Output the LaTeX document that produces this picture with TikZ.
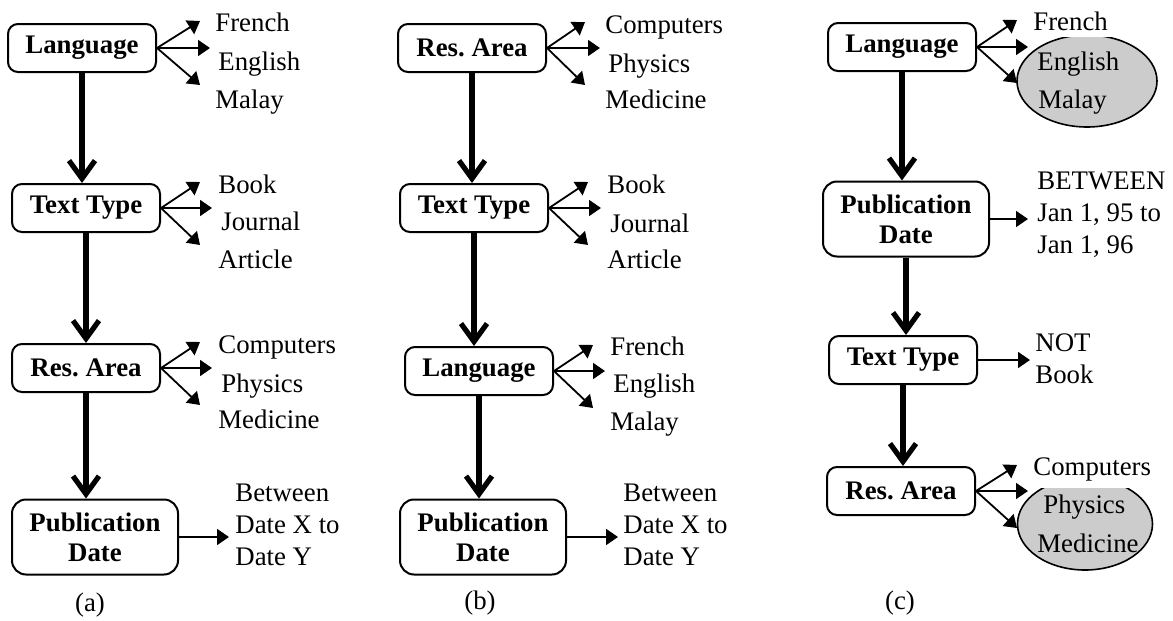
\documentclass[tikz,border=0pt]{standalone}
\usepackage{fontspec}
\setmainfont{Liberation Serif}
\usetikzlibrary{arrows.meta,shapes.geometric}

\begin{document}
\begin{tikzpicture}[
		x=0.5pt, y=-0.5pt,
		every node/.style={font=\fontsize{13.4}{16}\selectfont},
		attr/.style={draw=black, line width=1pt, rounded corners=5pt, font=\fontsize{13.4}{15}\selectfont\bfseries, align=center, inner sep=0pt, minimum width=74pt, minimum height=24pt},
		datebox/.style={attr, rounded corners=7pt, minimum width=83pt, minimum height=37.5pt},
		val/.style={anchor=base west, inner sep=0pt, align=left},
		cover/.style={val, fill=white, inner xsep=2pt, inner ysep=3.5pt},
		picked/.style={ellipse, draw=black, line width=0.8pt, fill=black!20, inner sep=0pt},
		order/.style={line width=2.6pt, -{Straight Barb[length=9pt,width=13pt]}},
		fan/.style={line width=0.9pt, -{Triangle[length=6pt,width=8pt]}}
		]
		\useasboundingbox (0,0) rectangle (1173,621);
		
		% (a)
		\node[attr] (la) at (82,48) {Language};
		\node[attr] (ta) at (86,208) {Text Type};
		\node[attr] (ra) at (86,368) {Res.\ Area};
		\node[datebox] (pa) at (95,537) {Publication\\Date};
		
		\node[val] (la-fr) at (215,32) {French};
		\node[val] (la-en) at (218,70) {English};
		\node[val] (la-ma) at (215,108) {Malay};
		\node[val] (ta-bo) at (218,193) {Book};
		\node[val] (ta-jo) at (221,230) {Journal};
		\node[val] (ta-ar) at (218,268) {Article};
		\node[val] (ra-co) at (218,353) {Computers};
		\node[val] (ra-ph) at (221,392) {Physics};
		\node[val] (ra-me) at (218,428) {Medicine};
		\node[val] (pa-dt) at (235,565) {Between\\Date X to\\Date Y};
		
		\path (200,21) coordinate (la-1) (210,48) coordinate (la-2) (200,85) coordinate (la-3);
		\path (200,182) coordinate (ta-1) (212,208) coordinate (ta-2) (200,245) coordinate (ta-3);
		\path (200,342) coordinate (ra-1) (212,368) coordinate (ra-2) (200,405) coordinate (ra-3);
		\coordinate (pa-1) at (229,537);
		
		\draw[order] (la.south) -- (la.south |- ta.north);
		\draw[order] (ta.south) -- (ta.south |- ra.north);
		\draw[order] (ra.south) -- (ra.south |- pa.north);
		\draw[fan] (la.east) -- (la-1);
		\draw[fan] (la.east) -- (la-2);
		\draw[fan] (la.east) -- (la-3);
		\draw[fan] (ta.east) -- (ta-1);
		\draw[fan] (ta.east) -- (ta-2);
		\draw[fan] (ta.east) -- (ta-3);
		\draw[fan] (ra.east) -- (ra-1);
		\draw[fan] (ra.east) -- (ra-2);
		\draw[fan] (ra.east) -- (ra-3);
		\draw[fan] (pa.east) -- (pa-1);
		
		\node (cap-a) at (90,605) {(a)};
		
		% (b)
		\node[attr] (rb) at (472,48) {Res.\ Area};
		\node[attr] (tb) at (474,208) {Text Type};
		\node[attr] (lb) at (479,371) {Language};
		\node[datebox] (pb) at (483,537) {Publication\\Date};
		
		\node[val] (rb-co) at (605,33) {Computers};
		\node[val] (rb-ph) at (608,72) {Physics};
		\node[val] (rb-me) at (605,108) {Medicine};
		\node[val] (tb-bo) at (607,193) {Book};
		\node[val] (tb-jo) at (610,232) {Journal};
		\node[val] (tb-ar) at (607,268) {Article};
		\node[val] (lb-fr) at (610,355) {French};
		\node[val] (lb-en) at (613,392) {English};
		\node[val] (lb-ma) at (610,430) {Malay};
		\node[val] (pb-dt) at (623,565) {Between\\Date X to\\Date Y};
		
		\path (585,22) coordinate (rb-1) (600,48) coordinate (rb-2) (585,85) coordinate (rb-3);
		\path (588,182) coordinate (tb-1) (601,208) coordinate (tb-2) (588,245) coordinate (tb-3);
		\path (593,345) coordinate (lb-1) (605,371) coordinate (lb-2) (593,408) coordinate (lb-3);
		\coordinate (pb-1) at (618,537);
		
		\draw[order] (rb.south) -- (rb.south |- tb.north);
		\draw[order] (tb.south) -- (tb.south |- lb.north);
		\draw[order] (lb.south) -- (lb.south |- pb.north);
		\draw[fan] (rb.east) -- (rb-1);
		\draw[fan] (rb.east) -- (rb-2);
		\draw[fan] (rb.east) -- (rb-3);
		\draw[fan] (tb.east) -- (tb-1);
		\draw[fan] (tb.east) -- (tb-2);
		\draw[fan] (tb.east) -- (tb-3);
		\draw[fan] (lb.east) -- (lb-1);
		\draw[fan] (lb.east) -- (lb-2);
		\draw[fan] (lb.east) -- (lb-3);
		\draw[fan] (pb.east) -- (pb-1);
		
		\node (cap-b) at (480,603) {(b)};
		
		% (c)
		\node[attr] (lc) at (902,47) {Language};
		\node[datebox] (pc) at (906,219) {Publication\\Date};
		\node[attr] (tc) at (903,360) {Text Type};
		\node[attr] (rc) at (901,491) {Res.\ Area};
		
		\node[picked, minimum width=70pt, minimum height=46pt] (lc-sel) at (1087,81) {};
		\node[picked, minimum width=67.5pt, minimum height=46pt] (rc-sel) at (1085,524) {};
		
		\node[cover] (lc-fr) at (1029,30) {French};
		\node[val] (lc-en) at (1037,70) {English};
		\node[val] (lc-ma) at (1038,108) {Malay};
		\node[val] (pc-dt) at (1037,253) {BETWEEN\\Jan 1, 95 to\\Jan 1, 96};
		\node[val] (tc-dt) at (1035,383) {NOT\\Book};
		\node[cover] (rc-co) at (1029,475) {Computers};
		\node[val] (rc-ph) at (1043,513) {Physics};
		\node[val] (rc-me) at (1037,552) {Medicine};
		
		\path (1017,20) coordinate (lc-1) (1028,47) coordinate (lc-2) (1017,83) coordinate (lc-3);
		\path (1017,465) coordinate (rc-1) (1028,491) coordinate (rc-2) (1017,528) coordinate (rc-3);
		\coordinate (pc-1) at (1028,219);
		\coordinate (tc-1) at (1030,360);
		
		\draw[order] (lc.south) -- (lc.south |- pc.north);
		\draw[order] (pc.south) -- (pc.south |- tc.north);
		\draw[order] (tc.south) -- (tc.south |- rc.north);
		\draw[fan] (lc.east) -- (lc-1);
		\draw[fan] (lc.east) -- (lc-2);
		\draw[fan] (lc.east) -- (lc-3);
		\draw[fan] (pc.east) -- (pc-1);
		\draw[fan] (tc.east) -- (tc-1);
		\draw[fan] (rc.east) -- (rc-1);
		\draw[fan] (rc.east) -- (rc-2);
		\draw[fan] (rc.east) -- (rc-3);
		
		\node (cap-c) at (900,603) {(c)};
	\end{tikzpicture}
\end{document}
